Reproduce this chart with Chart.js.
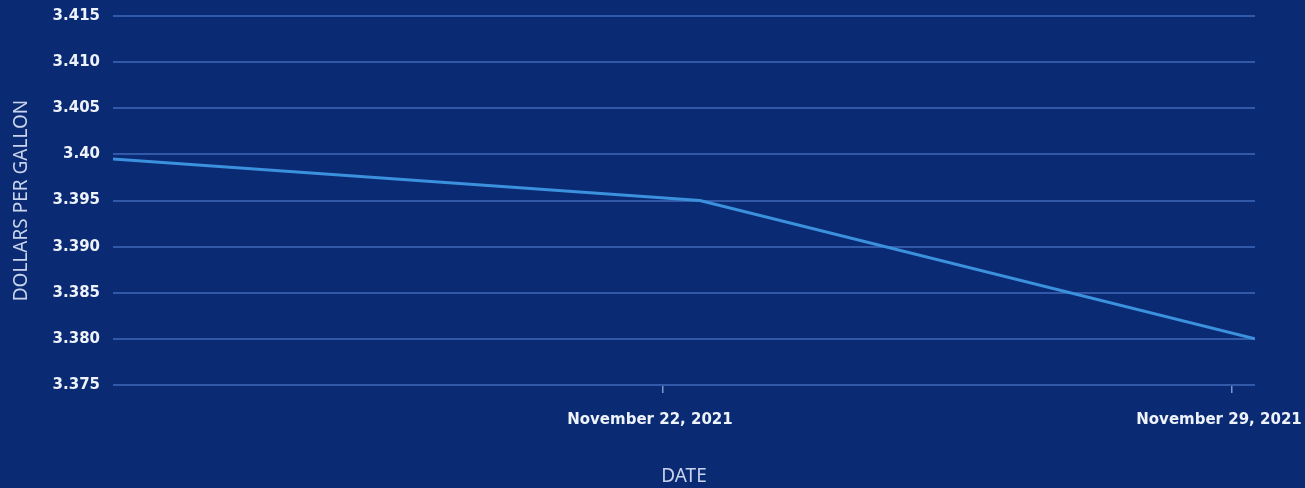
<!DOCTYPE html>
<html>
<head>
<meta charset="utf-8">
<script src="https://cdn.jsdelivr.net/npm/chart.js@4.4.1/dist/chart.umd.min.js"></script>
<style>
    html, body { margin: 0; padding: 0; background: #0a2b74; }
    #wrap { width: 1305px; height: 488px; }
</style>
</head>
<body>
<div id="wrap"><canvas id="gasChart" width="1305" height="488"></canvas></div>
<script>
// days of November 2021
const dayValues = [15.234, 22.455, 29.283];
const prices = [3.3995, 3.3950, 3.3800];
const xTickDays = [22, 29];
const xTickLabels = ['November 22, 2021', 'November 29, 2021'];
const yTicks = [3.375, 3.380, 3.385, 3.390, 3.395, 3.40, 3.405, 3.410, 3.415];
const yTickLabels = ['3.375', '3.380', '3.385', '3.390', '3.395', '3.40', '3.405', '3.410', '3.415'];

const bgPlugin = {
    id: 'bg',
    beforeDraw(chart) {
        const c = chart.ctx;
        c.save();
        c.fillStyle = '#0a2b74';
        c.fillRect(0, 0, chart.width, chart.height);
        c.restore();
    }
};

const tickFont = { family: 'DejaVu Sans', size: 15, weight: 'bold' };
const titleFont = { family: 'Noto Sans', size: 19 };

new Chart(document.getElementById('gasChart'), {
    type: 'line',
    data: {
        datasets: [{
            data: dayValues.map((d, i) => ({ x: d, y: prices[i] })),
            borderColor: '#3b91dd',
            borderWidth: 3,
            pointRadius: 0,
            tension: 0
        }]
    },
    options: {
        responsive: false,
        animation: false,
        layout: { padding: { left: 0, right: 50, top: 16, bottom: 0 } },
        plugins: { legend: { display: false }, tooltip: { enabled: false } },
        scales: {
            x: {
                type: 'linear',
                min: dayValues[0],
                max: dayValues[dayValues.length - 1],
                afterBuildTicks: s => { s.ticks = xTickDays.map(v => ({ value: v })); },
                afterFit: s => { s.height = 103; s.paddingLeft = 0; s.paddingRight = 0; },
                ticks: {
                    color: '#eef2fa',
                    font: tickFont,
                    padding: 18,
                    labelOffset: -13,
                    maxRotation: 0,
                    autoSkip: false,
                    callback: (v) => xTickLabels[xTickDays.indexOf(v)]
                },
                grid: {
                    drawOnChartArea: false,
                    drawTicks: true,
                    tickLength: 8,
                    color: '#7d96cc',
                    lineWidth: 1.5
                },
                border: { display: false },
                title: {
                    display: true,
                    text: 'DATE',
                    color: '#c9d4ec',
                    font: titleFont,
                    padding: { top: 4, bottom: 0 }
                }
            },
            y: {
                min: yTicks[0],
                max: yTicks[yTicks.length - 1],
                afterBuildTicks: s => { s.ticks = yTicks.map(v => ({ value: v })); },
                afterFit: s => { s.width = 113; s.paddingTop = 0; s.paddingBottom = 0; },
                ticks: {
                    color: '#eef2fa',
                    font: tickFont,
                    padding: 13,
                    callback: (v) => yTickLabels[yTicks.indexOf(v)]
                },
                grid: {
                    drawTicks: false,
                    color: '#3159a8',
                    lineWidth: 2
                },
                border: { display: false },
                title: {
                    display: true,
                    text: 'DOLLARS PER GALLON',
                    color: '#c9d4ec',
                    font: titleFont,
                    padding: { top: 10, bottom: 4 }
                }
            }
        }
    },
    plugins: [bgPlugin]
});
</script>
</body>
</html>
